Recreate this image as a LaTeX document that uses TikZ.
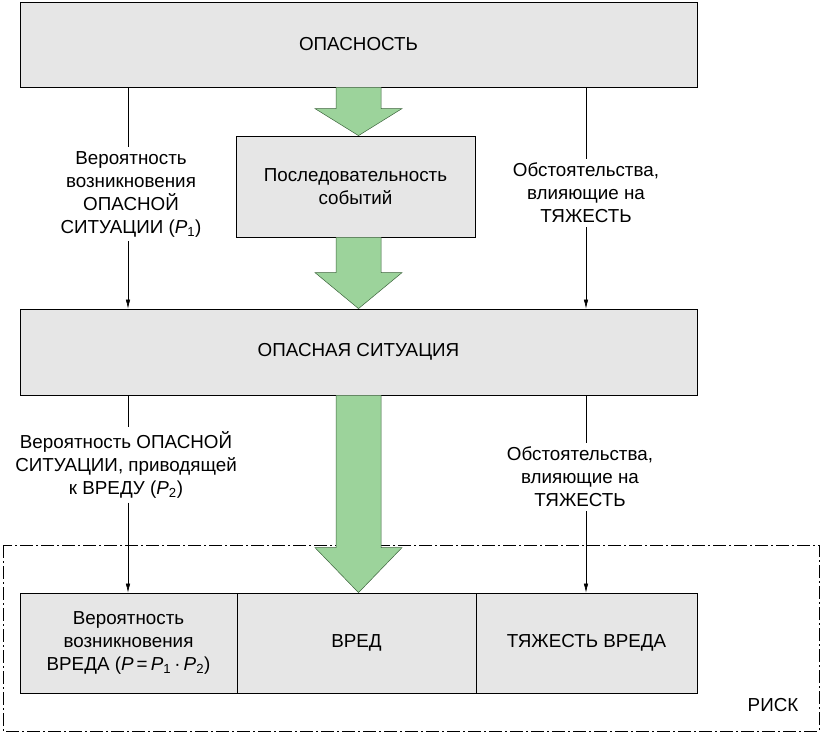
\documentclass[tikz,border=0pt]{standalone}
\usepackage{fontspec}
\setmainfont{Liberation Sans}
\usetikzlibrary{arrows.meta,calc}
\definecolor{boxgray}{RGB}{230,230,230}
\definecolor{arrgreen}{RGB}{156,211,155}
\definecolor{arrline}{RGB}{60,100,60}
\newcommand\Pvar[1]{\textit{P}\textsubscript{#1}}
\newcommand\fatarrow[3]{%
  \draw[bigarr] ($(#1)+(-22.5,0)$) -- ($(#2)+(-22.5,-#3)$) -- ($(#2)+(-43.5,-#3)$) -- (#2)
    -- ($(#2)+(43.5,-#3)$) -- ($(#2)+(22.5,-#3)$) -- ($(#1)+(22.5,0)$);}
\begin{document}
\begin{tikzpicture}[x=1pt,y=-1pt,
  txt/.style={font=\fontsize{18.8}{23}\selectfont, align=center},
  gbox/.style={txt, draw=black, fill=boxgray, line width=0.8pt, inner sep=0pt},
  lbl/.style={txt, inner sep=4pt},
  thin/.style={draw=black, line width=0.6pt},
  thinarr/.style={thin, -{Latex[length=9pt,width=4.5pt]}},
  bigarr/.style={fill=arrgreen, draw=arrline, line width=0.5pt},
  risk/.style={draw=black, line width=0.6pt, dash pattern=on 13pt off 3pt on 2pt off 3pt}]
\useasboundingbox (0,0) rectangle (821,734);
% risk frame
\draw[risk] (3,545) rectangle (819,731);
\node[txt, anchor=center] (risk) at (773,705) {РИСК};
% boxes
\node[gbox, minimum width=677, minimum height=85] (opas) at (358.5,44.5) {ОПАСНОСТЬ};
\node[gbox, minimum width=239, minimum height=101] (seq) at (355.5,186.5) {Последовательность\\событий};
\node[gbox, minimum width=677, minimum height=86] (sit) at (358.5,352) {ОПАСНАЯ СИТУАЦИЯ};
\node[gbox, minimum width=217, minimum height=100] (b1) at (128.5,643) {Вероятность\\возникновения\\ВРЕДА (\textit{P}\,=\,\Pvar{1}\,·\,\Pvar{2})};
\node[gbox, minimum width=239, minimum height=100] (b2) at (356.5,643) {ВРЕД};
\node[gbox, minimum width=221, minimum height=100] (b3) at (586.5,643) {ТЯЖЕСТЬ ВРЕДА};
% labels
\node[lbl] (l1) at (131,194) {Вероятность\\возникновения\\ОПАСНОЙ\\СИТУАЦИИ (\Pvar{1})};
\node[lbl] (r1) at (586,193) {Обстоятельства,\\влияющие на\\ТЯЖЕСТЬ};
\node[lbl] (l2) at (126,465) {Вероятность ОПАСНОЙ\\СИТУАЦИИ, приводящей\\к ВРЕДУ (\Pvar{2})};
\node[lbl] (r2) at (580,477) {Обстоятельства,\\влияющие на\\ТЯЖЕСТЬ};
% thin connectors
\coordinate (xL) at (128,0);
\coordinate (xR) at (586,0);
\draw[thin] (xL |- opas.south) -- (xL |- l1.north);
\draw[thinarr] (xL |- l1.south) -- (xL |- sit.north);
\draw[thin] (xR |- opas.south) -- (xR |- r1.north);
\draw[thinarr] (xR |- r1.south) -- (xR |- sit.north);
\draw[thin] (xL |- sit.south) -- (xL |- l2.north);
\draw[thinarr] (xL |- l2.south) -- (xL |- b1.north);
\draw[thin] (xR |- sit.south) -- (xR |- r2.north);
\draw[thinarr] (xR |- r2.south) -- (xR |- b3.north);
% fat arrows
\coordinate (a1s) at (opas.south);
\coordinate (a1e) at (seq.north -| opas.south);
\coordinate (a2s) at (seq.south -| opas.south);
\coordinate (a2e) at (sit.north);
\coordinate (a3s) at (sit.south);
\coordinate (a3e) at (b2.north -| sit.south);
\fatarrow{a1s}{a1e}{27}
\fatarrow{a2s}{a2e}{36}
\fatarrow{a3s}{a3e}{45}
\end{tikzpicture}
\end{document}
